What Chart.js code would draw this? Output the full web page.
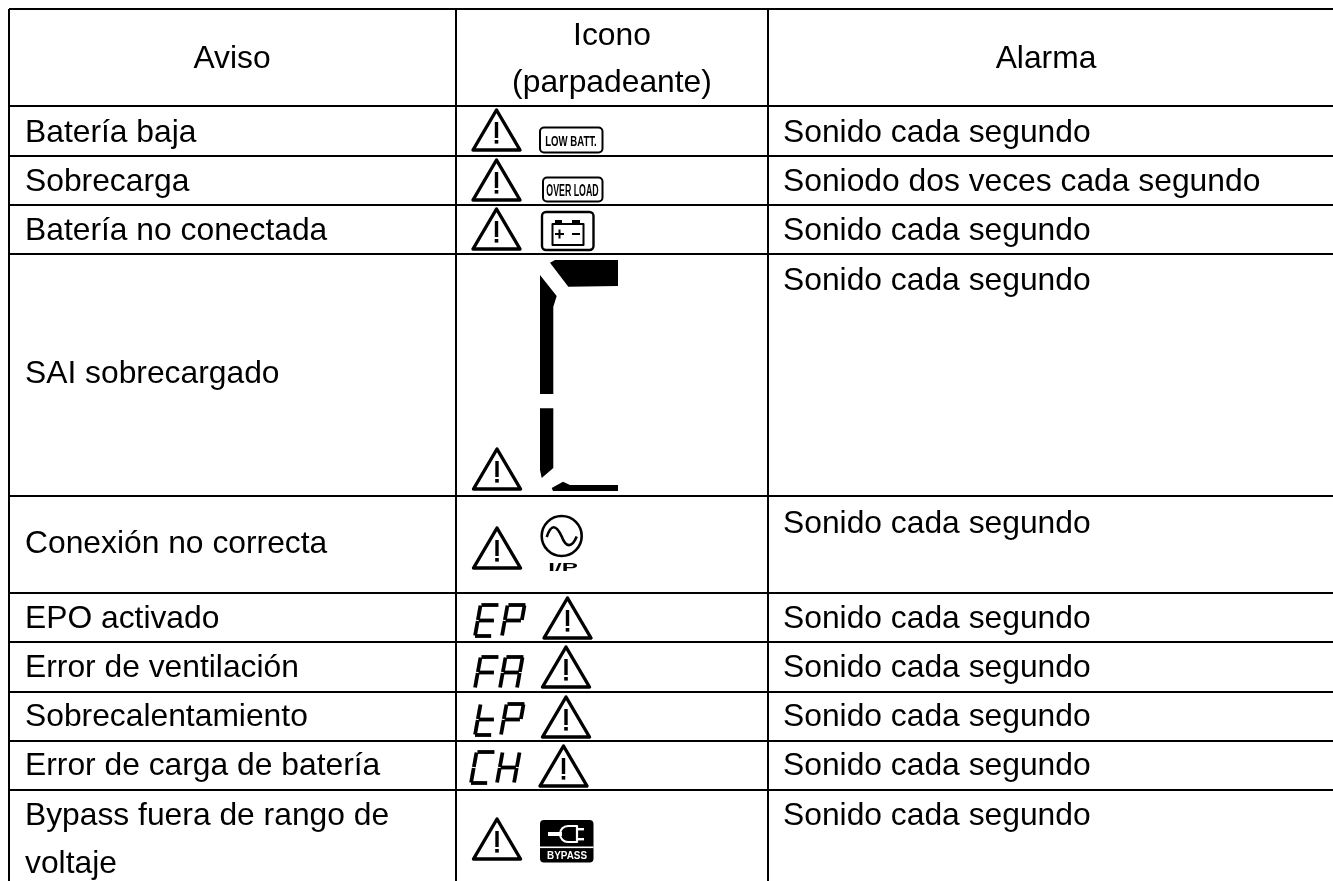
<!DOCTYPE html>
<html>
<head>
<meta charset="utf-8">
<title>Avisos</title>
<script src="https://cdn.jsdelivr.net/npm/chart.js@4"></script>
<style>
  html, body { margin: 0; padding: 0; background: #fff; overflow: hidden; }
  canvas { display: block; }
</style>
</head>
<body>
<canvas id="tableChart" width="1333" height="881"></canvas>
<script>
// table content
const headers = ["Aviso", ["Icono", "(parpadeante)"], "Alarma"];
const avisos = [
  ["Batería baja"],
  ["Sobrecarga"],
  ["Batería no conectada"],
  ["SAI sobrecargado"],
  ["Conexión no correcta"],
  ["EPO activado"],
  ["Error de ventilación"],
  ["Sobrecalentamiento"],
  ["Error de carga de batería"],
  ["Bypass fuera de rango de", "voltaje"]
];
const alarmas = [
  "Sonido cada segundo",
  "Soniodo dos veces cada segundo",
  "Sonido cada segundo",
  "Sonido cada segundo",
  "Sonido cada segundo",
  "Sonido cada segundo",
  "Sonido cada segundo",
  "Sonido cada segundo",
  "Sonido cada segundo",
  "Sonido cada segundo"
];

// layout of the page, in axis units
const colEdges = [9, 456, 768];
const rowEdges = [9, 106, 156, 205, 254, 496, 593, 642, 692, 741, 790];
const avisoBase = [142, 191, 240, 383, 553, 628, 677, 726, 775, 825];
const alarmaBase = [142, 191, 240, 290, 533, 628, 677, 726, 775, 825];
const triangles = [
  [496.5, 108], [496.5, 158], [496.5, 207], [497, 447], [497, 526],
  [567.5, 596], [566, 645], [566, 695], [563.5, 744], [497, 817]
];
const segLetters = [
  [475, 605, "E"], [502, 605, "P"],
  [475, 657, "F"], [500, 657, "A"],
  [475, 704, "t"], [501, 704, "P"],
  [471, 752, "C"], [497, 752, "H"]
];
const segMap = {
  E: "afged", P: "abfeg", F: "afeg", A: "abcefg", t: "defg", C: "adef", H: "bcefg"
};

const tableFont = "31.8px 'Liberation Sans', Arial, sans-serif";

const tablePlugin = {
  id: "tablePlugin",
  afterDraw(chart) {
    const ctx = chart.ctx;
    const X = v => chart.scales.x.getPixelForValue(v);
    const Y = v => chart.scales.y.getPixelForValue(v);

    function poly(points) {
      ctx.beginPath();
      points.forEach((p, i) => i ? ctx.lineTo(X(p[0]), Y(p[1])) : ctx.moveTo(X(p[0]), Y(p[1])));
      ctx.closePath();
      ctx.fill();
    }
    function roundBox(x0, y0, x1, y1, r) {
      ctx.beginPath();
      ctx.roundRect(X(x0), Y(y0), X(x1) - X(x0), Y(y1) - Y(y0), r);
    }
    function squeezed(text, x, y, sx, font) {
      ctx.save();
      ctx.translate(X(x), Y(y));
      ctx.scale(sx, 1);
      ctx.font = font;
      ctx.fillText(text, 0, 0);
      ctx.restore();
    }

    ctx.save();
    ctx.fillStyle = "#000";
    ctx.strokeStyle = "#000";
    ctx.font = tableFont;
    ctx.textBaseline = "alphabetic";

    // headers
    ctx.textAlign = "center";
    ctx.fillText(headers[0], X(232), Y(68));
    ctx.fillText(headers[1][0], X(612), Y(45));
    ctx.fillText(headers[1][1], X(612), Y(92));
    ctx.fillText(headers[2], X(1046), Y(68));

    // body text
    ctx.textAlign = "left";
    avisos.forEach((lines, i) => {
      lines.forEach((line, j) => ctx.fillText(line, X(25), Y(avisoBase[i] + j * 48)));
    });
    alarmas.forEach((line, i) => ctx.fillText(line, X(783), Y(alarmaBase[i])));

    // the icons are a bit soft in the scan
    ctx.filter = "blur(0.4px)";

    // warning triangles
    triangles.forEach(([cx, top]) => {
      ctx.lineWidth = 3.4;
      ctx.lineJoin = "round";
      ctx.beginPath();
      ctx.moveTo(X(cx), Y(top + 2));
      ctx.lineTo(X(cx + 23.5), Y(top + 42));
      ctx.lineTo(X(cx - 23.5), Y(top + 42));
      ctx.closePath();
      ctx.stroke();
      ctx.fillRect(X(cx - 1.7), Y(top + 14), 3.4, 16);
      ctx.fillRect(X(cx - 1.8), Y(top + 32), 3.6, 3.6);
    });

    // LOW BATT / OVER LOAD
    ctx.lineWidth = 2;
    roundBox(540, 127.5, 602.5, 152.5, 4);
    ctx.stroke();
    roundBox(543, 177.5, 602.5, 201.5, 4);
    ctx.stroke();
    ctx.textAlign = "center";
    squeezed("LOW BATT.", 571, 146, 0.64, "bold 15px 'Liberation Sans', sans-serif");
    squeezed("OVER LOAD", 572.5, 196, 0.55, "bold 16px 'Liberation Sans', sans-serif");

    // battery
    ctx.lineWidth = 2.4;
    roundBox(542, 212, 593.5, 250, 4);
    ctx.stroke();
    ctx.lineWidth = 2;
    ctx.strokeRect(X(552.5), Y(224), 31, 21);
    ctx.fillRect(X(555), Y(220), 7, 4);
    ctx.fillRect(X(572), Y(220), 8, 4);
    ctx.fillRect(X(555), Y(233), 9, 2);
    ctx.fillRect(X(558.5), Y(229.5), 2, 9);
    ctx.fillRect(X(572), Y(233), 8, 2);

    // load bar segments
    poly([[550, 262.7], [555, 260], [618, 260], [618, 286], [568.3, 286.7]]);
    poly([[540, 275], [556.7, 296], [553.3, 306.7], [553.3, 394], [540, 394]]);
    poly([[540, 408.3], [553.3, 408.3], [553.3, 468], [541.7, 478], [540, 470]]);
    poly([[551.7, 488], [563, 481.7], [570, 485], [618, 485], [618, 491], [553, 491]]);

    // input sine
    ctx.lineWidth = 2.6;
    ctx.beginPath();
    ctx.arc(X(561.7), Y(536), 20, 0, Math.PI * 2);
    ctx.stroke();
    ctx.beginPath();
    ctx.moveTo(X(546.7), Y(537));
    ctx.bezierCurveTo(X(551), Y(524), X(556), Y(524), X(561.7), Y(536.5));
    ctx.bezierCurveTo(X(566), Y(548), X(572), Y(548), X(576.7), Y(536.5));
    ctx.stroke();
    squeezed("I/P", 563, 571, 2.2, "bold 11px 'Liberation Sans', sans-serif");

    // bypass plug
    roundBox(540, 820, 593.5, 862.5, 4);
    ctx.fill();
    ctx.fillStyle = "#fff";
    ctx.fillRect(X(540), Y(846.5), 53.5, 1.6);
    ctx.fillRect(X(548), Y(832), 14, 4);
    ctx.fillRect(X(577), Y(828), 7, 2.4);
    ctx.fillRect(X(577), Y(838), 7, 2.4);
    ctx.strokeStyle = "#fff";
    ctx.lineWidth = 2.2;
    ctx.beginPath();
    ctx.moveTo(X(577), Y(826));
    ctx.lineTo(X(568), Y(826));
    ctx.arc(X(568), Y(834), 8, -Math.PI / 2, -Math.PI * 1.5, true);
    ctx.lineTo(X(577), Y(842));
    ctx.closePath();
    ctx.stroke();
    squeezed("BYPASS", 567, 859, 0.9, "bold 11px 'Liberation Sans', sans-serif");
    ctx.fillStyle = "#000";
    ctx.strokeStyle = "#000";

    // seven segment letters, slanted
    segLetters.forEach(([x0, y0, letter]) => {
      const w = 17, h = 15.5, sl = 0.18;
      const pt = (u, v) => [X(x0 + u * w + (2 - v) * h * sl), Y(y0 + v * h)];
      const segs = {
        a: [[0.05, 0], [1.05, 0]], b: [[1, 0.03], [1, 0.97]], c: [[1, 1.03], [1, 1.97]],
        d: [[0, 2], [0.95, 2]], e: [[0, 1.03], [0, 1.97]], f: [[0, 0.03], [0, 0.97]],
        g: [[0.05, 1], [0.95, 1]]
      };
      ctx.lineWidth = 3.8;
      ctx.lineCap = "butt";
      for (const s of segMap[letter]) {
        const [a, b] = segs[s];
        const p = pt(a[0], a[1]), q = pt(b[0], b[1]);
        ctx.beginPath();
        ctx.moveTo(p[0], p[1]);
        ctx.lineTo(q[0], q[1]);
        ctx.stroke();
      }
    });
    ctx.restore();
  }
};

// the table rules are the grid lines of the two axes
new Chart(document.getElementById("tableChart"), {
  type: "scatter",
  data: { datasets: [{ data: [] }] },
  plugins: [tablePlugin],
  options: {
    responsive: false,
    animation: false,
    layout: { padding: { left: 9, top: 9, right: 0, bottom: 0 } },
    plugins: { legend: { display: false }, tooltip: { enabled: false } },
    scales: {
      x: {
        type: "linear",
        min: 9,
        max: 1333,
        afterBuildTicks: axis => { axis.ticks = colEdges.map(v => ({ value: v })); },
        ticks: { display: false },
        border: { display: false },
        grid: { color: "#000", lineWidth: 2, drawTicks: false }
      },
      y: {
        type: "linear",
        reverse: true,
        min: 9,
        max: 881,
        afterBuildTicks: axis => { axis.ticks = rowEdges.map(v => ({ value: v })); },
        ticks: { display: false },
        border: { display: false },
        grid: { color: "#000", lineWidth: 2, drawTicks: false }
      }
    }
  }
});
</script>
</body>
</html>
